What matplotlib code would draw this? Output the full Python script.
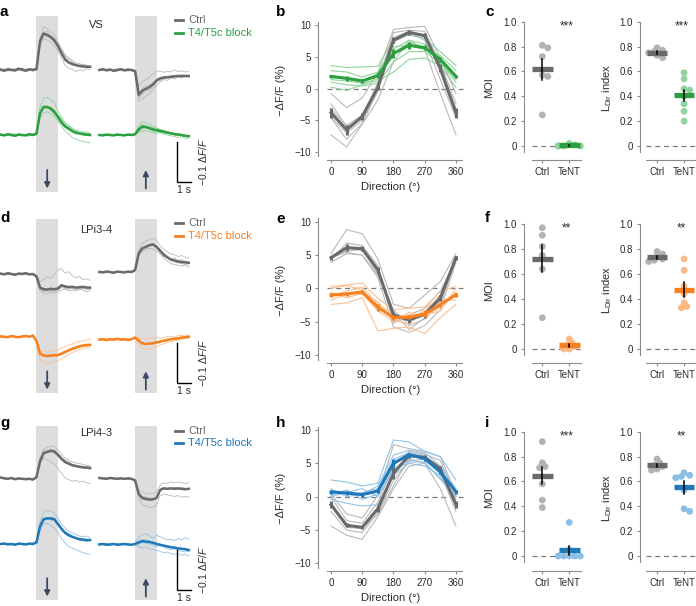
import numpy as np
import matplotlib
matplotlib.use("Agg")
import matplotlib.pyplot as plt
from matplotlib.lines import Line2D

plt.rcParams['font.family'] = ['Liberation Sans', 'DejaVu Sans']
plt.rcParams['mathtext.fontset'] = 'custom'
plt.rcParams['mathtext.rm'] = 'Liberation Sans'
plt.rcParams['mathtext.it'] = 'Liberation Sans:italic'

W, H = 696, 606

# ---------------- data ----------------
# time axis of the example traces (s), stimulus 0-1.5 s
time_s = np.arange(-2.5, 3.76, 0.25)
STIM = 1.5

# traces in units of 1e-3 (-dF/F), mean and single flies
vs_ctrl_dn = [1, -2, 2, 0, -1, 3, 1, -2, 2, 0, 2, 72, 91, 88, 82, 74, 60, 42, 27, 19, 15, 12, 10, 9, 8, 8]
vs_ctrl_dn_ind = [
    [3, -4, 5, -2, 1, 6, -3, 2, -1, 4, 5, 80, 108, 104, 96, 88, 70, 55, 38, 30, 24, 18, 15, 14, 12, 10],
    [-3, 2, -1, 4, -4, 1, 3, -2, 4, -2, 0, 60, 78, 75, 70, 62, 48, 30, 12, 4, 2, -4, 0, -2, 3, 1],
    [2, 0, -3, 1, 3, -2, 5, 0, -3, 2, 3, 70, 94, 98, 86, 80, 66, 50, 36, 28, 20, 14, 16, 10, 12, 9],
    [0, 3, -2, -1, 2, 4, -1, 3, 1, -3, 1, 78, 88, 82, 84, 70, 58, 38, 22, 18, 12, 14, 8, 10, 6, 8],
]
vs_ctrl_up = [0, 2, -1, 1, -2, 0, 2, -1, 1, 0, -3, -62, -52, -47, -43, -36, -26, -21, -19, -18, -17, -16, -15, -15, -15, -15]
vs_ctrl_up_ind = [
    [2, -2, 3, 0, -3, 1, 4, -1, 2, -2, -4, -78, -72, -66, -60, -50, -38, -30, -24, -26, -20, -22, -18, -20, -16, -18],
    [-2, 1, -1, 3, 0, -2, 1, 2, -3, 1, -1, -40, -30, -24, -18, -10, -4, -2, -6, -3, -5, 0, -4, -2, -5, -3],
    [1, -1, 2, -2, 2, 3, -2, 0, 2, -1, -2, -70, -60, -52, -50, -44, -30, -26, -22, -20, -19, -17, -16, -18, -14, -16],
    [-1, 3, -2, 1, -1, -3, 2, -2, 0, 2, -3, -58, -46, -40, -38, -32, -24, -20, -16, -18, -14, -13, -15, -12, -13, -14],
]
vs_blk_dn = [1, -1, 2, 0, -2, 1, 0, -1, 2, 0, 3, 55, 70, 70, 66, 58, 46, 32, 22, 16, 10, 6, 4, 2, 1, 0]
vs_blk_dn_ind = [
    [2, -3, 3, 1, -2, 4, -1, 2, 0, -2, 4, 70, 92, 94, 88, 80, 60, 46, 30, 24, 18, 12, 10, 6, 8, 4],
    [-2, 1, -1, 3, -1, -2, 2, 0, -3, 1, 2, 44, 56, 58, 52, 46, 36, 22, 10, 2, -6, -10, -14, -16, -18, -20],
    [1, 0, -2, -1, 3, 0, -3, 1, 2, -1, 1, 58, 72, 68, 70, 62, 50, 40, 30, 22, 14, 10, 6, 8, 4, 2],
    [0, 2, 1, -2, 0, 2, 1, -2, 1, 3, 5, 50, 66, 72, 60, 52, 40, 28, 18, 14, 8, 2, 4, 0, -2, 1],
]
vs_blk_up = [0, -1, 1, 0, -1, 1, 0, -1, 1, 0, 2, 14, 21, 20, 17, 14, 12, 10, 8, 6, 4, 2, 1, 0, -2, -3]
vs_blk_up_ind = [
    [1, -2, 2, -1, 0, 3, -2, 1, 0, -1, 4, 24, 34, 30, 26, 22, 18, 14, 12, 8, 6, 4, 2, 1, 0, -2],
    [-2, 1, 0, 2, -1, -1, 1, -2, 2, 1, 0, 6, 10, 12, 8, 6, 4, 6, 2, 0, -2, -4, -6, -4, -8, -8],
    [1, 0, -1, -2, 2, 0, 1, 0, -1, 2, 3, 18, 26, 22, 20, 18, 16, 12, 10, 8, 6, 4, 2, 2, -1, -4],
    [-1, 2, 1, 0, -2, 1, -1, 2, 0, -2, 1, 10, 16, 18, 14, 10, 8, 8, 6, 4, 2, 0, 0, -2, -3, -2],
]

lpi34_ctrl_dn = [1, -1, 2, 0, -2, 1, 0, 2, -1, 0, -6, -34, -38, -39, -37, -38, -36, -28, -31, -33, -32, -34, -33, -32, -34, -34]
lpi34_ctrl_dn_ind = [
    [2, -2, 3, 1, -3, 2, -1, 3, 0, -2, -3, -20, -14, -6, -12, 0, 10, 14, 2, 6, -4, -10, -6, -14, -12, -16],
    [-1, 2, 0, -2, 1, -1, 3, -1, 2, 1, -8, -42, -48, -50, -46, -48, -44, -40, -38, -42, -40, -42, -38, -40, -44, -42],
    [0, 1, -2, 2, 0, -2, 1, 0, -2, 2, -6, -38, -44, -42, -40, -44, -40, -34, -36, -38, -36, -40, -38, -36, -38, -40],
    [1, 0, 1, -1, 2, 0, -2, 1, 1, -1, -5, -36, -40, -42, -44, -40, -38, -30, -34, -30, -36, -34, -36, -34, -32, -36],
]
lpi34_ctrl_up = [5, 4, 6, 5, 3, 6, 5, 4, 6, 5, 10, 52, 64, 68, 72, 74, 68, 58, 48, 42, 36, 34, 31, 30, 29, 28]
lpi34_ctrl_up_ind = [
    [6, 3, 8, 4, 5, 7, 3, 6, 4, 6, 12, 60, 76, 82, 86, 90, 84, 70, 62, 56, 50, 48, 44, 46, 42, 40],
    [4, 6, 3, 7, 2, 5, 6, 3, 7, 4, 8, 44, 56, 60, 64, 62, 58, 50, 40, 32, 26, 24, 22, 20, 22, 18],
    [5, 4, 7, 3, 6, 4, 5, 7, 4, 5, 10, 54, 66, 64, 70, 72, 66, 54, 44, 40, 34, 30, 28, 26, 24, 25],
    [3, 5, 4, 6, 4, 6, 4, 5, 6, 3, 9, 48, 60, 70, 74, 76, 70, 62, 52, 44, 38, 40, 34, 36, 32, 30],
]
lpi34_blk_dn = [1, 0, -1, 2, 0, -1, 1, 2, 0, 3, -10, -42, -47, -48, -47, -46, -46, -42, -38, -34, -30, -27, -24, -22, -21, -20]
lpi34_blk_dn_ind = [
    [2, -1, 1, 3, -2, 0, 2, 1, -1, 4, -8, -34, -36, -38, -34, -36, -32, -28, -24, -20, -18, -14, -12, -10, -8, -6],
    [-1, 1, 0, 2, 1, -2, 0, 3, 1, 2, -12, -56, -64, -68, -66, -62, -60, -54, -50, -44, -40, -36, -32, -30, -28, -26],
    [0, 2, -2, 1, 0, 1, -1, 2, 0, 3, -10, -44, -48, -46, -50, -48, -48, -44, -40, -36, -32, -30, -26, -24, -24, -22],
    [1, -1, 0, 1, 2, -1, 2, 0, 1, 2, -9, -40, -44, -46, -44, -42, -44, -40, -36, -34, -28, -26, -22, -20, -18, -19],
]
lpi34_blk_up = [-7, -6, -8, -6, -7, -5, -7, -6, -8, -6, -2, -10, -16, -18, -17, -16, -14, -12, -10, -8, -6, -5, -4, -2, -1, 0]
lpi34_blk_up_ind = [
    [-6, -8, -5, -7, -4, -8, -6, -5, -7, -8, 0, -2, -4, -6, -2, -4, -2, -4, -2, 0, 2, -1, 3, 4, 2, 5],
    [-8, -5, -9, -6, -8, -4, -9, -7, -6, -5, -4, -18, -28, -32, -30, -28, -24, -20, -18, -14, -12, -10, -8, -6, -4, -5],
    [-7, -6, -6, -8, -6, -7, -5, -8, -9, -6, -2, -12, -18, -16, -20, -18, -16, -12, -12, -10, -6, -7, -4, -3, -2, -1],
    [-5, -7, -8, -5, -9, -6, -7, -4, -6, -7, -3, -8, -14, -20, -16, -14, -12, -14, -8, -6, -8, -2, -4, 0, -2, 2],
]

lpi43_ctrl_dn = [1, -1, -2, 0, -3, -1, -2, -3, -2, -4, 2, 42, 62, 65, 68, 66, 58, 48, 40, 36, 32, 30, 28, 27, 26, 25]
lpi43_ctrl_dn_ind = [
    [2, 0, -1, 1, -2, 0, -3, -2, -1, -3, 4, 50, 72, 76, 80, 78, 70, 60, 50, 44, 40, 38, 36, 34, 32, 30],
    [0, -2, -3, -1, -4, -2, -1, -4, -3, -5, 0, 36, 50, 46, 40, 34, 24, 12, 0, -4, -8, -6, -10, -8, -12, -14],
    [1, -1, 0, -2, -2, -1, -3, -2, -1, -4, 3, 44, 66, 70, 72, 70, 62, 52, 44, 40, 34, 32, 30, 28, 28, 26],
    [-1, 0, -2, 1, -3, -2, -1, -3, -3, -3, 2, 40, 60, 64, 66, 64, 56, 46, 38, 34, 30, 28, 26, 24, 24, 22],
]
lpi43_ctrl_up = [0, -1, -2, 0, -1, -2, -1, -2, -1, -2, -6, -40, -50, -52, -54, -53, -50, -30, -26, -27, -26, -27, -26, -27, -28, -27]
lpi43_ctrl_up_ind = [
    [1, -2, 0, -1, -3, 0, -2, -1, -3, -1, -8, -50, -66, -70, -74, -72, -68, -44, -40, -42, -44, -46, -44, -48, -46, -48],
    [-1, 0, -3, 1, 0, -3, 0, -3, 0, -2, -4, -30, -36, -38, -40, -38, -36, -18, -12, -14, -10, -12, -10, -12, -14, -12],
    [0, -2, -1, -1, -2, -1, -2, -1, -2, -3, -6, -44, -52, -56, -54, -56, -52, -30, -28, -26, -24, -26, -28, -24, -26, -28],
    [-1, 1, -2, 0, -1, -2, -1, -3, 0, -2, -5, -38, -46, -48, -50, -52, -48, -28, -24, -28, -26, -24, -26, -28, -30, -26],
]
lpi43_blk_dn = [0, 1, -1, 0, -2, 1, 0, -1, 1, 0, 4, 44, 62, 64, 64, 62, 50, 38, 28, 22, 18, 15, 12, 11, 10, 10]
lpi43_blk_dn_ind = [
    [1, -2, 0, 2, -1, -1, 1, 0, -2, 1, 6, 56, 80, 84, 82, 78, 64, 50, 40, 32, 28, 24, 20, 18, 20, 16],
    [-1, 2, 1, -2, 0, 2, -1, 1, 0, -1, 2, 34, 50, 52, 46, 40, 28, 14, 2, -6, -10, -14, -18, -22, -24, -26],
    [0, 0, -2, 1, -1, 0, 2, -2, 1, 2, 5, 46, 64, 62, 66, 64, 54, 40, 30, 26, 20, 16, 14, 12, 10, 12],
    [1, -1, 2, -1, 1, -2, 0, 1, -1, 0, 3, 40, 58, 66, 60, 58, 48, 36, 26, 20, 16, 14, 10, 8, 6, 8],
]
lpi43_blk_up = [-1, 0, -2, -1, 0, -2, -1, 0, -1, -2, 0, 4, 7, 6, 5, 3, 0, -2, -4, -6, -8, -9, -11, -12, -13, -15]
lpi43_blk_up_ind = [
    [1, -2, 3, 0, -1, 2, -2, 1, 0, -1, 2, 16, 24, 26, 20, 14, 22, 18, 14, 10, 12, 8, 14, 10, 16, 12],
    [-3, 0, -4, -2, 1, -3, 0, -2, -3, -1, -2, -6, -10, -8, -12, -14, -16, -18, -22, -20, -24, -26, -24, -28, -26, -30],
    [0, 1, -1, 0, -2, -1, 1, -1, 0, -3, 1, 8, 12, 10, 8, 6, 2, 0, -4, -6, -6, -10, -12, -10, -14, -16],
    [-2, -1, 0, -3, 1, -2, -2, 0, -2, -1, -1, 0, 4, 2, 0, -2, -6, -4, -8, -12, -14, -12, -16, -18, -20, -18],
]

# direction tuning (-dF/F, %)
directions = [0, 45, 90, 135, 180, 225, 270, 315, 360]

vs_tune_ctrl = [-3.8, -6.5, -4.4, 0.2, 7.6, 8.85, 8.3, 3.2, -3.8]
vs_tune_ctrl_sem = [0.8, 0.8, 0.6, 0.4, 0.5, 0.4, 0.4, 0.6, 0.8]
vs_tune_ctrl_ind = [
    [-0.8, -3.0, -1.5, 2.5, 9.3, 9.6, 9.8, 4.8, -0.8],
    [-7.3, -9.2, -5.6, -1.8, 4.2, 7.6, 6.2, -0.8, -7.3],
    [-3.2, -5.8, -4.2, 0.5, 8.0, 9.0, 8.4, 3.2, -3.2],
    [-4.5, -7.0, -5.0, -0.5, 7.4, 8.5, 8.6, 2.6, -4.5],
    [-2.4, -6.0, -4.8, 1.0, 8.8, 9.2, 9.0, 4.0, -2.4],
    [-4.6, -8.0, -5.5, -0.2, 7.3, 8.8, 7.6, 1.4, -4.6],
]
vs_tune_blk = [1.9, 1.6, 1.2, 2.0, 5.5, 6.8, 6.4, 4.6, 1.9]
vs_tune_blk_sem = [0.3, 0.4, 0.3, 0.4, 0.7, 0.5, 0.4, 0.4, 0.3]
vs_tune_blk_ind = [
    [3.6, 3.3, 3.4, 3.5, 7.8, 8.4, 7.9, 5.8, 3.6],
    [0.2, -0.3, 0.6, 1.2, 2.6, 4.6, 4.8, 3.6, 0.2],
    [2.0, 1.5, 1.0, 2.4, 5.6, 7.2, 6.6, 4.8, 2.0],
    [1.4, 1.2, 0.8, 1.5, 6.2, 7.6, 7.0, 4.2, 1.4],
    [2.8, 2.6, 1.8, 2.6, 6.6, 6.8, 6.2, 5.2, 2.8],
    [1.0, 0.6, 0.4, 0.8, 4.2, 5.8, 5.8, 4.0, 1.0],
]

lpi34_tune_ctrl = [4.6, 6.1, 5.95, 2.75, -4.0, -4.75, -3.9, -1.45, 4.6]
lpi34_tune_ctrl_sem = [0.3, 0.5, 0.4, 0.4, 0.4, 0.5, 0.5, 0.5, 0.3]
lpi34_tune_ctrl_ind = [
    [5.2, 8.8, 8.2, 4.4, -2.4, -3.0, -1.0, 1.0, 5.2],
    [3.9, 5.2, 5.0, 1.6, -5.8, -6.6, -5.6, -3.2, 3.9],
    [4.4, 6.2, 6.0, 3.0, -4.4, -4.8, -3.6, -1.0, 4.4],
    [4.8, 5.6, 5.8, 2.2, -3.2, -5.6, -4.6, -2.0, 4.8],
    [4.2, 6.8, 6.4, 3.4, -5.2, -4.0, -3.0, -0.4, 4.2],
    [4.6, 5.4, 5.0, 2.0, -3.6, -6.2, -4.4, -2.6, 4.6],
]
lpi34_tune_blk = [-1.0, -0.85, -0.55, -2.85, -4.4, -4.35, -3.85, -2.45, -0.95]
lpi34_tune_blk_sem = [0.3, 0.3, 0.3, 0.5, 0.4, 0.3, 0.4, 0.3, 0.3]
lpi34_tune_blk_ind = [
    [0.3, 0.5, 0.8, -1.5, -3.2, -3.0, -2.8, -0.5, 0.3],
    [-2.4, -2.2, -1.4, -6.4, -6.0, -5.8, -6.8, -4.4, -2.4],
    [-1.2, -0.4, 0.2, -2.4, -3.8, -4.6, -3.4, -2.0, -1.2],
    [-0.6, -1.4, -0.8, -3.4, -5.0, -3.6, -4.2, -2.8, -0.6],
    [-1.8, -0.8, -0.6, -2.0, -4.8, -5.4, -3.0, -1.6, -1.8],
    [0.0, 0.4, -0.2, -2.8, -4.2, -4.0, -4.0, -3.4, 0.0],
]

lpi43_tune_ctrl = [-1.2, -4.3, -4.6, -1.8, 3.5, 6.2, 5.9, 4.2, -1.2]
lpi43_tune_ctrl_sem = [0.5, 0.3, 0.3, 0.5, 0.9, 0.4, 0.3, 0.4, 0.5]
lpi43_tune_ctrl_ind = [
    [0.4, -2.6, -3.2, 0.2, 7.8, 7.2, 6.8, 6.0, 0.4],
    [-4.4, -5.8, -6.4, -3.0, 1.2, 4.6, 5.0, 1.2, -4.4],
    [-1.0, -4.6, -4.8, -1.6, 3.6, 6.0, 6.0, 4.4, -1.0],
    [-2.2, -5.0, -5.4, -2.4, 2.4, 5.4, 5.6, 3.6, -2.2],
    [0.0, -3.6, -4.0, -0.8, 4.6, 6.8, 6.4, 5.4, 0.0],
    [-1.4, -4.2, -4.8, -2.6, 1.6, 5.8, 6.0, 4.4, -1.4],
]
lpi43_tune_blk = [0.7, 0.55, 0.3, 0.85, 5.0, 6.3, 5.7, 3.7, 0.75]
lpi43_tune_blk_sem = [0.3, 0.3, 0.3, 0.3, 0.6, 0.3, 0.3, 0.3, 0.3]
lpi43_tune_blk_ind = [
    [2.5, 2.2, 1.6, 2.0, 8.5, 8.2, 6.8, 6.0, 2.5],
    [-0.4, -1.0, -1.4, -1.2, 3.2, 5.0, 4.6, 3.2, -0.4],
    [0.8, 0.4, 0.6, 1.2, 5.6, 6.6, 6.2, 3.8, 0.8],
    [0.2, 1.0, -0.4, 0.4, 4.2, 5.6, 5.0, 2.8, 0.2],
    [1.2, 0.0, 0.4, 1.6, 6.2, 7.0, 6.6, 4.6, 1.2],
    [0.0, 0.6, 1.2, 0.0, 4.0, 5.2, 5.2, 2.6, 0.0],
]

# per-fly indices
vs_moi_ctrl = [0.81, 0.79, 0.72, 0.57, 0.56, 0.25]
vs_moi_tent = [0.02, 0.01, 0.0, 0.0, 0.0, 0.0, 0.0]
vs_ldir_ctrl = [0.79, 0.77, 0.76, 0.75, 0.73, 0.71]
vs_ldir_tent = [0.59, 0.54, 0.46, 0.45, 0.40, 0.34, 0.28, 0.20]

lpi34_moi_ctrl = [0.97, 0.91, 0.82, 0.75, 0.64, 0.25]
lpi34_moi_tent = [0.08, 0.05, 0.03, 0.02, 0.0, 0.0]
lpi34_ldir_ctrl = [0.78, 0.76, 0.74, 0.72, 0.71, 0.70]
lpi34_ldir_tent = [0.72, 0.63, 0.50, 0.44, 0.37, 0.34, 0.33]

lpi43_moi_ctrl = [0.92, 0.75, 0.72, 0.71, 0.58, 0.45, 0.39]
lpi43_moi_tent = [0.27, 0.05, 0.0, 0.0, 0.0, 0.0, 0.0]
lpi43_ldir_ctrl = [0.78, 0.75, 0.73, 0.72, 0.70, 0.69]
lpi43_ldir_tent = [0.67, 0.65, 0.64, 0.63, 0.53, 0.38, 0.36]

cell_types = ['VS', 'LPi3-4', 'LPi4-3']
group_labels = ['Ctrl', 'TeNT']
legend_labels = ['Ctrl', 'T4/T5c block']
stars_moi = ['***', '**', '***']
stars_ldir = ['***', '**', '**']

# ---------------- style ----------------
CTRL_DARK = '#6a6a6a'
CTRL_LT = '#b9b9b9'
CTRL_PT = '#b3b3b3'
BLOCK = [('#2ca040', '#8fd49c', '#8fd49c'),
         ('#f7801f', '#fdbf8f', '#fdb985'),
         ('#1f78b8', '#93c3e6', '#8cbfe4')]
SPINE = '#8c8c8c'
TXT = '#2b2b2b'
ARROW = '#3b4866'
TICK_FS = 7
LABEL_FS = 8

PX_PER_S = 14.3
SHIFT = 6.9  # time offset of the second (upward) stimulus block

fig = plt.figure(figsize=(W / 100, H / 100), dpi=100)


def px_axes(x0, y0, x1, y1):
    return fig.add_axes([x0 / W, 1 - y1 / H, (x1 - x0) / W, (y1 - y0) / H])


def style_axes(ax):
    for s in ('top', 'right'):
        ax.spines[s].set_visible(False)
    for s in ('left', 'bottom'):
        ax.spines[s].set_color(SPINE)
        ax.spines[s].set_linewidth(0.8)
    ax.tick_params(colors=SPINE, labelcolor=TXT, labelsize=TICK_FS, length=2.5, width=0.8, pad=2.5)


def trace_panel(ax, k, ylim, blk_off):
    ax.set_xlim(-2.55, -2.55 + 215 / PX_PER_S)
    ax.set_ylim(ylim)
    ax.axis('off')
    col, col_lt, _ = BLOCK[k]
    sets = [
        [(vs_ctrl_dn, vs_ctrl_dn_ind, vs_ctrl_up, vs_ctrl_up_ind),
         (vs_blk_dn, vs_blk_dn_ind, vs_blk_up, vs_blk_up_ind)],
        [(lpi34_ctrl_dn, lpi34_ctrl_dn_ind, lpi34_ctrl_up, lpi34_ctrl_up_ind),
         (lpi34_blk_dn, lpi34_blk_dn_ind, lpi34_blk_up, lpi34_blk_up_ind)],
        [(lpi43_ctrl_dn, lpi43_ctrl_dn_ind, lpi43_ctrl_up, lpi43_ctrl_up_ind),
         (lpi43_blk_dn, lpi43_blk_dn_ind, lpi43_blk_up, lpi43_blk_up_ind)],
    ][k]
    for off in (0, SHIFT):
        ax.axvspan(off, off + STIM, color='#dddddd', lw=0, zorder=0)
    for (dn, dn_ind, up, up_ind), yoff, cm, cl in zip(sets, (0, blk_off), (CTRL_DARK, col), (CTRL_LT, col_lt)):
        for mean, ind, toff in ((dn, dn_ind, 0), (up, up_ind, SHIFT)):
            for tr in ind:
                ax.plot(time_s + toff, np.array(tr) / 1000 + yoff, color=cl, lw=0.6, zorder=1)
            ax.plot(time_s + toff, np.array(mean) / 1000 + yoff, color=cm, lw=1.8, zorder=2)
    # stimulus direction arrows
    ax.annotate('', xy=(STIM / 2, 0.02), xytext=(STIM / 2, 0.125),
                xycoords=('data', 'axes fraction'),
                arrowprops=dict(arrowstyle='-|>', color=ARROW, lw=1.3, mutation_scale=8, shrinkA=0, shrinkB=0))
    ax.annotate('', xy=(SHIFT + STIM / 2, 0.125), xytext=(SHIFT + STIM / 2, 0.02),
                xycoords=('data', 'axes fraction'),
                arrowprops=dict(arrowstyle='-|>', color=ARROW, lw=1.3, mutation_scale=8, shrinkA=0, shrinkB=0))
    # scale bar
    xb = -2.55 + 177 / PX_PER_S
    yb = ylim[0] + 0.025
    ax.plot([xb, xb, xb + 1], [yb + 0.1, yb, yb], color='k', lw=1.0, solid_joinstyle='miter', clip_on=False)
    ax.text(xb + 0.5, yb - 0.008, '1 s', ha='center', va='top', fontsize=7.5, color=TXT)
    ax.text(xb + 1.8, yb + 0.05, r'$-0.1\ \Delta F/F$', rotation=90, ha='center', va='center',
            fontsize=7.5, color=TXT)


def tune_panel(ax, k, ylim):
    col, col_lt, _ = BLOCK[k]
    ctrl, ctrl_sem, ctrl_ind, blk, blk_sem, blk_ind = [
        (vs_tune_ctrl, vs_tune_ctrl_sem, vs_tune_ctrl_ind, vs_tune_blk, vs_tune_blk_sem, vs_tune_blk_ind),
        (lpi34_tune_ctrl, lpi34_tune_ctrl_sem, lpi34_tune_ctrl_ind, lpi34_tune_blk, lpi34_tune_blk_sem, lpi34_tune_blk_ind),
        (lpi43_tune_ctrl, lpi43_tune_ctrl_sem, lpi43_tune_ctrl_ind, lpi43_tune_blk, lpi43_tune_blk_sem, lpi43_tune_blk_ind),
    ][k]
    ax.set_xlim(-38, 382)
    ax.set_ylim(ylim)
    style_axes(ax)
    ax.plot([-12, 380], [0, 0], ls=(0, (4, 3)), color='#7a7a7a', lw=0.9, zorder=1)
    for tr in ctrl_ind:
        ax.plot(directions, tr, color=CTRL_LT, lw=0.8, zorder=2)
    for tr in blk_ind:
        ax.plot(directions, tr, color=col_lt, lw=0.8, zorder=3)
    ax.errorbar(directions, ctrl, yerr=ctrl_sem, color=CTRL_DARK, lw=2.2, elinewidth=2.2, capsize=0, zorder=4)
    ax.errorbar(directions, blk, yerr=blk_sem, color=col, lw=2.2, elinewidth=2.2, capsize=0, zorder=5)
    ax.spines['left'].set_bounds(-10.7, 10.5)
    ax.spines['bottom'].set_bounds(-12, 378)
    ax.set_xticks([0, 90, 180, 270, 360])
    ax.set_yticks([-10, -5, 0, 5, 10])
    ax.set_ylabel('\u2212\u0394F/F (%)', fontsize=LABEL_FS, color=TXT)
    ax.set_xlabel('Direction (\u00b0)', fontsize=LABEL_FS, color=TXT)


def swarm(vals, xc, ppx, ppy, d=4.6):
    # minimal beeswarm in pixel space
    vals = np.asarray(vals, dtype=float)
    order = np.argsort(vals)[::-1]
    placed = []
    xs = np.zeros(len(vals))
    for i in order:
        y = vals[i] * ppy
        for s in (0, 1, -1, 2, -2, 3, -3, 4, -4):
            x = s * d * 0.6
            if all((x - px) ** 2 + (y - py) ** 2 >= d ** 2 for px, py in placed):
                break
        placed.append((x, y))
        xs[i] = xc + x / ppx
    return xs


def index_panel(ax, k, ctrl, tent, ylim, xlim, ylabel, stars, ppy):
    col, _, col_pt = BLOCK[k]
    ax.set_xlim(xlim)
    ax.set_ylim(ylim)
    style_axes(ax)
    ax.plot([-0.39, 1.4], [0, 0], ls=(0, (4, 3)), color='#7a7a7a', lw=0.9, zorder=1)
    for g, (vals, cp, cm) in enumerate(((ctrl, CTRL_PT, CTRL_DARK), (tent, col_pt, col))):
        vals = np.asarray(vals)
        xs = swarm(vals, g, 27, ppy)
        ax.scatter(xs, vals, s=24, color=cp, edgecolor='none', zorder=2, clip_on=False)
        m = vals.mean()
        se = vals.std(ddof=1) / np.sqrt(len(vals))
        ax.plot([g - 0.38, g + 0.38], [m, m], color=cm, lw=3.8, solid_capstyle='butt', zorder=3)
        ax.plot([g, g], [m - se, m + se], color='k', lw=1.1, zorder=4)
    ax.spines['left'].set_bounds(-0.05, 1.0)
    ax.spines['bottom'].set_bounds(-0.39, min(1.44, xlim[1]))
    ax.set_yticks([0, 0.2, 0.4, 0.6, 0.8, 1.0])
    ax.set_yticklabels(['0', '0.2', '0.4', '0.6', '0.8', '1.0'])
    ax.set_xticks([0, 1])
    ax.set_xticklabels(group_labels)
    ax.set_ylabel(ylabel, fontsize=LABEL_FS, color=TXT, labelpad=3)
    ax.text(0.9, 0.965, stars, ha='center', va='center', fontsize=8.5, color=TXT)


# geometry of the three rows (pixels)
rows = [
    dict(tr=(16, 192), trylim=(-0.305, 0.135), boff=-0.1625,
         tu=(21.2, 160), tuylim=(-11.26, 10.6),
         ix=(15.5, 160), ixylim=(-0.1126, 1.05), ppy=124.3,
         letters_y=(5, 5, 5), title_y=25, leg_y=(20, 33)),
    dict(tr=(219, 393), trylim=(-0.2975, 0.1375), boff=-0.157,
         tu=(217.7, 362.7), tuylim=(-11.16, 10.6),
         ix=(217.75, 363), ixylim=(-0.112, 1.05), ppy=125,
         letters_y=(211, 212, 211), title_y=230, leg_y=(223, 236)),
    dict(tr=(426, 600), trylim=(-0.305, 0.13), boff=-0.165,
         tu=(426, 570.7), tuylim=(-11.11, 10.6),
         ix=(425.5, 570.7), ixylim=(-0.118, 1.05), ppy=124.3,
         letters_y=(416, 416, 416), title_y=433, leg_y=(431, 443)),
]
moi = [(vs_moi_ctrl, vs_moi_tent), (lpi34_moi_ctrl, lpi34_moi_tent), (lpi43_moi_ctrl, lpi43_moi_tent)]
ldir = [(vs_ldir_ctrl, vs_ldir_tent), (lpi34_ldir_ctrl, lpi34_ldir_tent), (lpi43_ldir_ctrl, lpi43_ldir_tent)]
letters = ['abc', 'def', 'ghi']

for k, r in enumerate(rows):
    col = BLOCK[k][0]
    ax_tr = px_axes(0, r['tr'][0], 215, r['tr'][1])
    trace_panel(ax_tr, k, r['trylim'], r['boff'])

    ax_tu = px_axes(317.8, r['tu'][0], 463.6, r['tu'][1])
    tune_panel(ax_tu, k, r['tuylim'])
    ax_tu.yaxis.set_label_coords(-0.215, 0.5)

    ax_m = px_axes(524, r['ix'][0], 582.8, r['ix'][1])
    index_panel(ax_m, k, moi[k][0], moi[k][1], r['ixylim'], (-0.678, 1.5), 'MOI', stars_moi[k], r['ppy'])
    ax_m.yaxis.set_label_coords(-0.5, 0.5)

    ax_l = px_axes(640, r['ix'][0], 696, r['ix'][1])
    index_panel(ax_l, k, ldir[k][0], ldir[k][1], r['ixylim'], (-0.63, 1.44),
                r'L$_{\mathrm{Dir}}$ index', stars_ldir[k], r['ppy'])
    ax_l.yaxis.set_label_coords(-0.47, 0.5)

    # panel letters
    for lx, ly, ch in zip((0, 276, 485), r['letters_y'], letters[k]):
        fig.text(lx / W, 1 - ly / H, ch, fontsize=11, fontweight='bold', ha='left', va='top')
    # cell type title
    fig.text(96 / W, 1 - r['title_y'] / H, cell_types[k], fontsize=8, ha='center', va='center', color=TXT)
    # legend
    for ly, lab, c in zip(r['leg_y'], legend_labels, (CTRL_DARK, col)):
        fig.add_artist(Line2D([175 / W, 183 / W], [1 - ly / H, 1 - ly / H], color=c, lw=2.0))
        fig.text(188 / W, 1 - ly / H, lab, fontsize=8, color=c, ha='left', va='center')

fig.savefig('out.png', dpi=100)
